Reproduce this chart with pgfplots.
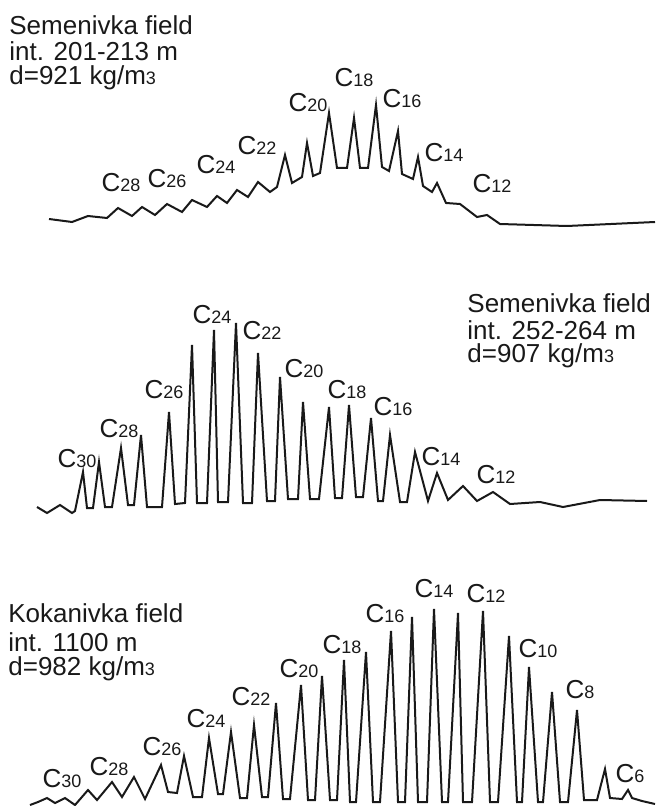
\documentclass[border=0pt]{standalone}
\usepackage{pgfplots}
\pgfplotsset{compat=1.18}
\usepackage{fontspec}
\setmainfont{Liberation Sans}
\newcommand\Cn[1]{C{\fontsize{9}{9}\selectfont #1}}
\newcommand\mthree{m{\fontsize{9}{9}\selectfont 3}}
\tikzset{
  lab/.style={anchor=base, font=\fontsize{13}{13}\selectfont, text=black!90, inner sep=0pt},
  hdr/.style={anchor=base west, font=\fontsize{13}{13}\selectfont, text=black!90, inner sep=0pt}}
\begin{document}
\begin{tikzpicture}
\begin{axis}[scale only axis, width=327.5pt, height=403pt,
  xmin=0, xmax=655, ymin=0, ymax=806, y dir=reverse, hide axis, clip=false,
  every axis plot post/.append style={black!90, line width=1pt, line join=miter, mark=none}]
% top trace: Semenivka 201-213 m
\addplot coordinates {(49,219) (72,222) (88,216) (107,218) (118,208) (132,216) (142,207) (155,215) (167,204) (182,212) (192,200) (207,207) (217,196) (227,203) (237,190) (248,197) (258,182) (270,192) (277,187) (285,155) (292,183) (302,177) (307,143) (313,176) (320,173) (329,113) (337,168) (347,168) (354,118) (360,168) (368,168) (376,105) (382,167) (389,171) (398,131) (402,174) (413,179) (418,157) (423,186) (432,192) (437,183) (446,203) (460,204) (477,217) (487,215) (500,224) (567,226) (655,222)};
% middle trace: Semenivka 252-264 m
\addplot coordinates {(37,507) (47,513) (60,505) (72,513) (75,511) (83,472) (87,508) (93,508) (99,462) (105,507) (112,507) (121,448) (128,505) (134,505) (141,435) (147,507) (162,507) (169,412) (175,504) (185,503) (192,345) (197,503) (207,503) (214,330) (218,502) (228,502) (236,323) (243,503) (252,503) (258,353) (267,501) (275,501) (280,377) (288,499) (298,499) (303,402) (310,499) (319,499) (329,407) (335,498) (342,498) (349,405) (356,497) (363,497) (371,418) (378,501) (383,501) (390,435) (400,502) (407,502) (415,452) (428,501) (437,473) (448,500) (463,486) (477,501) (493,492) (510,504) (540,502) (563,507) (600,500) (647,501)};
% bottom trace: Kokanivka 1100 m
\addplot coordinates {(30,805) (38,802) (47,798) (55,803) (65,798) (75,805) (88,790) (97,800) (112,782) (122,797) (134,777) (145,799) (161,765) (168,792) (177,793) (184,756) (193,797) (202,797) (209,738) (218,794) (223,794) (231,732) (240,798) (247,798) (254,725) (262,797) (268,797) (276,703) (283,799) (290,799) (301,685) (308,800) (315,800) (322,676) (330,800) (337,800) (344,660) (350,802) (356,802) (366,652) (373,802) (380,802) (391,631) (398,802) (405,802) (412,617) (418,802) (427,802) (434,609) (442,802) (448,802) (458,613) (463,802) (472,802) (483,611) (490,802) (498,802) (509,636) (517,802) (522,802) (529,667) (538,802) (543,802) (552,692) (560,802) (568,802) (577,710) (584,800) (597,800) (605,769) (610,798) (622,799) (628,790) (632,798) (642,801) (655,804)};
% headers
\node[hdr] at (axis cs:9,35) {Semenivka field};
\node[hdr] at (axis cs:9,61) {int. 201-213 m};
\node[hdr] at (axis cs:9,85) {d=921 kg/\mthree};
\node[hdr] at (axis cs:467,313) {Semenivka field};
\node[hdr] at (axis cs:467,339) {int. 252-264 m};
\node[hdr] at (axis cs:467,362) {d=907 kg/\mthree};
\node[hdr] at (axis cs:8,622) {Kokanivka field};
\node[hdr] at (axis cs:8,651) {int. 1100 m};
\node[hdr] at (axis cs:8,675) {d=982 kg/\mthree};
% top labels
\node[lab] at (axis cs:121,192) {\Cn{28}};
\node[lab] at (axis cs:167,188) {\Cn{26}};
\node[lab] at (axis cs:216,174) {\Cn{24}};
\node[lab] at (axis cs:257,155) {\Cn{22}};
\node[lab] at (axis cs:308,112) {\Cn{20}};
\node[lab] at (axis cs:354,87) {\Cn{18}};
\node[lab] at (axis cs:402,108) {\Cn{16}};
\node[lab] at (axis cs:444,162) {\Cn{14}};
\node[lab] at (axis cs:492,193) {\Cn{12}};
% middle labels
\node[lab] at (axis cs:77,467) {\Cn{30}};
\node[lab] at (axis cs:119,437) {\Cn{28}};
\node[lab] at (axis cs:164,398) {\Cn{26}};
\node[lab] at (axis cs:212,323) {\Cn{24}};
\node[lab] at (axis cs:262,340) {\Cn{22}};
\node[lab] at (axis cs:304,377) {\Cn{20}};
\node[lab] at (axis cs:347,398) {\Cn{18}};
\node[lab] at (axis cs:393,415) {\Cn{16}};
\node[lab] at (axis cs:441,465) {\Cn{14}};
\node[lab] at (axis cs:496,483) {\Cn{12}};
% bottom labels
\node[lab] at (axis cs:62,787) {\Cn{30}};
\node[lab] at (axis cs:109,775) {\Cn{28}};
\node[lab] at (axis cs:162,755) {\Cn{26}};
\node[lab] at (axis cs:206,727) {\Cn{24}};
\node[lab] at (axis cs:251,705) {\Cn{22}};
\node[lab] at (axis cs:299,677) {\Cn{20}};
\node[lab] at (axis cs:342,653) {\Cn{18}};
\node[lab] at (axis cs:385,622) {\Cn{16}};
\node[lab] at (axis cs:434,597) {\Cn{14}};
\node[lab] at (axis cs:486,602) {\Cn{12}};
\node[lab] at (axis cs:538,657) {\Cn{10}};
\node[lab] at (axis cs:580,698) {\Cn{8}};
\node[lab] at (axis cs:630,782) {\Cn{6}};
\end{axis}
\pgfresetboundingbox
\path[use as bounding box] (0,0) rectangle (327.5pt,403pt);
\end{tikzpicture}
\end{document}
